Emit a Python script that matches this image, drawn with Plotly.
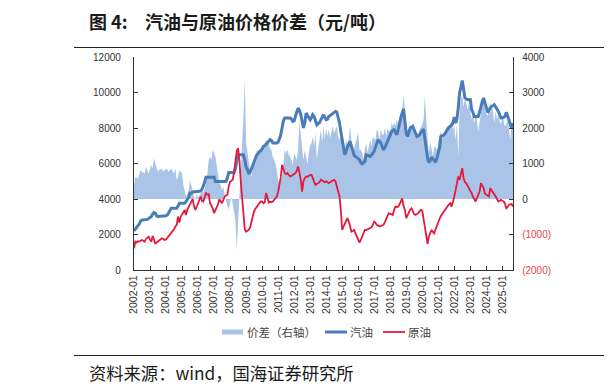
import pandas as pd
import plotly.graph_objects as go

# ---------------- data ----------------
months = pd.date_range("2002-01-01", periods=285, freq="MS")

gasoline = [
    2200, 2300, 2400, 2450, 2600, 2750, 2820, 2820, 2820, 2820, 2850, 2900,   # 2002
    2950, 3010, 3150, 3235, 3200, 3050, 3010, 3010, 3010, 3050, 3050, 3050,   # 2003
    3050, 3100, 3235, 3300, 3480, 3480, 3480, 3480, 3480, 3600, 3760, 3760,   # 2004
    3760, 3760, 3760, 3850, 3990, 4100, 4330, 4330, 4400, 4420, 4420, 4420,   # 2005
    4420, 4450, 4450, 4550, 4700, 4950, 5230, 5230, 5230, 5230, 5230, 5230,   # 2006
    5230, 4985, 4985, 4985, 4985, 4985, 4985, 4985, 4985, 4985, 5200, 5490,   # 2007
    5490, 5490, 5490, 5490, 5700, 6100, 6490, 6490, 6490, 6490, 6490, 6200,   # 2008
    5800, 5640, 5455, 5500, 5700, 5830, 6100, 6300, 6490, 6550, 6680, 6700,   # 2009
    6850, 6960, 7000, 7100, 7150, 7250, 7340, 7300, 7150, 7150, 7150, 7150,   # 2010
    7200, 7430, 7600, 8000, 8400, 8560, 8560, 8560, 8560, 8560, 8500, 8370,   # 2011
    8400, 8600, 8900, 9120, 9000, 8750, 8400, 8000, 8300, 8840, 8700, 8600,   # 2012
    8460, 8600, 8750, 8650, 8400, 8180, 8250, 8300, 8460, 8600, 8750, 8600,   # 2013
    8460, 8500, 8650, 8700, 8750, 8800, 8850, 8935, 8900, 8600, 8280, 7800,   # 2014
    7340, 6900, 6490, 6700, 6960, 7100, 7240, 7000, 6770, 6450, 6400, 6350,   # 2015
    6300, 6200, 6050, 5980, 6050, 6110, 6490, 6450, 6420, 6400, 6480, 6580,   # 2016
    6700, 6950, 7200, 7340, 7250, 7150, 6950, 6770, 6900, 7100, 7300, 7500,   # 2017
    7710, 7800, 7880, 7900, 7750, 7620, 7900, 8310, 8600, 8850, 9070, 8400,   # 2018
    7700, 7520, 7700, 8000, 8050, 8090, 7900, 7650, 7520, 7550, 7620, 7750,   # 2019
    7850, 7940, 7400, 6800, 6300, 6060, 6150, 6360, 6250, 6100, 6060, 6300,   # 2020
    6580, 6900, 7520, 7550, 7600, 7670, 7800, 8000, 8050, 8100, 8130, 8300,   # 2021
    8620, 8280, 8500, 9120, 9970, 10300, 10680, 10200, 9690, 9650, 9590, 9600,  # 2022
    9600, 9030, 8900, 8650, 8650, 8650, 8650, 8900, 9310, 9500, 9690, 9400,   # 2023
    9200, 8880, 9000, 9150, 9220, 9250, 9310, 9200, 9100, 8935, 8750, 8560,   # 2024
    8560, 8600, 8650, 8880, 8700, 8460, 8200, 8000, 8280,                     # 2025
]

crude = [
    1220, 1600, 1550, 1620, 1600, 1650, 1690, 1650, 1600, 1750, 1800, 1880,   # 2002
    1700, 1600, 1920, 1700, 1500, 1550, 1600, 1650, 1700, 1790, 1750, 1690,   # 2003
    1720, 1820, 1900, 2010, 2100, 2160, 2300, 2450, 2540, 3010, 2670, 3010,   # 2004
    3100, 3250, 3390, 3100, 3400, 3550, 3670, 3800, 3990, 3600, 3390, 3550,   # 2005
    3760, 3950, 4140, 3900, 3860, 4100, 4330, 4250, 4270, 3760, 3600, 3480,   # 2006
    3200, 3350, 3480, 3700, 3990, 3850, 3760, 3950, 4140, 4200, 4230, 4700,   # 2007
    4985, 5030, 5080, 5500, 6100, 6700, 6870, 6200, 5000, 3900, 2820, 2300,   # 2008
    2160, 2200, 2260, 2400, 2670, 3100, 3300, 3450, 3570, 3650, 3760, 3860,   # 2009
    3860, 3760, 3800, 4330, 4100, 3800, 3850, 3820, 3860, 3950, 4050, 4140,   # 2010
    4400, 4800, 5200, 5930, 5700, 5460, 5400, 5460, 5350, 5270, 5300, 5360,   # 2011
    5400, 5460, 5600, 5830, 5500, 5080, 4420, 5000, 5170, 5270, 5250, 5300,   # 2012
    5360, 5360, 5200, 4950, 4800, 4850, 4890, 4950, 5080, 5050, 5000, 4950,   # 2013
    5000, 4950, 4890, 4950, 5000, 5050, 5080, 5000, 4700, 4400, 4140, 3390,   # 2014
    2260, 2450, 2630, 2800, 2920, 2730, 2450, 2160, 2200, 2260, 2050, 1880,   # 2015
    1700, 1540, 1700, 1880, 2100, 2260, 2250, 2290, 2300, 2350, 2400, 2550,   # 2016
    2730, 2650, 2540, 2500, 2450, 2480, 2520, 2540, 2700, 2920, 3050, 3200,   # 2017
    3150, 3150, 3100, 3400, 3570, 3550, 3570, 3700, 3900, 4040, 3600, 3390,   # 2018
    2920, 3100, 3290, 3400, 3480, 3300, 3150, 3100, 3150, 3200, 3300, 3390,   # 2019
    3350, 2900, 2300, 1790, 1470, 1900, 2100, 2260, 2150, 2070, 2300, 2540,   # 2020
    2700, 2900, 3050, 3150, 3235, 3350, 3480, 3600, 3700, 3760, 3570, 3800,   # 2021
    4140, 4500, 4900, 5270, 5080, 5400, 5740, 5170, 4950, 4890, 4700, 4610,   # 2022
    4450, 4330, 4140, 3950, 3860, 4050, 4200, 4420, 4890, 4700, 4610, 4300,   # 2023
    4230, 4180, 4140, 4610, 4500, 4420, 4300, 4140, 4000, 3860, 3900, 3950,   # 2024
    3900, 3860, 3750, 3480, 3550, 3670, 3700, 3720, 3570,                     # 2025
]

spread = [
    395, 630, 600, 580, 700, 820, 770, 740, 720, 910, 800, 720,               # 2002
    850, 960, 860, 1145, 1000, 880, 770, 820, 840, 860, 770, 820,             # 2003
    860, 820, 770, 820, 860, 780, 720, 860, 535, 630, 820, 760,               # 2004
    720, 395, 250, 65, 150, 250, 535, 350, 150, 65, -30, 160,                 # 2005
    20, 100, 160, 300, 160, 300, 500, 700, 1100, 1190, 1100, 1380,            # 2006
    1300, 1190, 960, 630, 450, 395, 250, 350, 65, -50, -200, -310,            # 2007
    -120, 65, -150, -350, -600, -1437, -690, -100, 500, 1300, 2320, 3350,     # 2008
    1600, 1300, 1000, 820, 630, 900, 1100, 1190, 1380, 1290, 1420, 1290,      # 2009
    1450, 1520, 1570, 1660, 1600, 1570, 1420, 1380, 1190, 1100, 1000, 820,    # 2010
    535, 440, 500, 630, 960, 1380, 1290, 1380, 1250, 1190, 1100, 960,         # 2011
    1290, 1200, 1100, 1380, 2200, 1800, 1380, 1100, 1380, 1200, 1000, 1300,   # 2012
    1520, 1570, 1760, 1480, 1860, 1100, 1390, 1770, 1960, 1580, 2060, 1670,   # 2013
    1990, 1770, 1960, 1720, 1900, 2050, 1860, 1960, 2050, 1770, 1670, 1770,   # 2014
    1500, 1300, 1390, 1670, 1490, 1700, 2050, 1580, 1200, 1440, 1600, 1770,   # 2015
    1860, 1390, 1390, 1300, 1110, 1390, 1580, 1300, 1500, 1670, 1490, 1770,   # 2016
    1700, 1670, 1960, 1910, 1670, 1960, 1820, 1820, 2010, 1770, 2010, 1910,   # 2017
    1910, 2150, 2050, 2150, 2050, 2250, 2010, 2330, 2240, 2500, 2940, 2420,   # 2018
    2050, 1860, 1960, 2010, 2010, 2150, 1910, 1910, 1860, 1820, 1960, 2010,   # 2019
    2100, 2240, 2900, 2200, 1670, 1300, 1580, 1400, 1200, 1490, 1450, 1390,   # 2020
    1600, 1770, 1910, 1670, 1860, 1860, 2050, 1910, 2050, 2150, 2100, 1960,   # 2021
    2050, 1670, 2100, 1200, 2420, 2800, 2940, 2600, 2840, 2700, 2520, 2700,   # 2022
    2400, 2240, 2380, 2140, 2380, 2240, 1910, 2200, 2470, 2660, 2800, 2520,   # 2023
    2400, 2330, 2700, 2420, 2610, 2450, 2140, 2470, 2240, 2380, 2200, 2100,   # 2024
    2290, 2200, 2050, 2100, 2240, 1960, 1670, 2100, 2140,                     # 2025
]

left_ticks = [0, 2000, 4000, 6000, 8000, 10000, 12000]
left_labels = ["0", "2000", "4000", "6000", "8000", "10000", "12000"]
right_ticks = [-2000, -1000, 0, 1000, 2000, 3000, 4000]
right_labels = ["(2000)", "(1000)", "0", "1000", "2000", "3000", "4000"]

series_names = ["价差（右轴）", "汽油", "原油"]
title_head = "图 4:"
title_body = "汽油与原油价格价差（元/吨）"
source_text = "资料来源：wind，国海证券研究所"

# ---------------- styling ----------------
PAGE_W, PAGE_H = 612, 389
OFF = 8                                  # default body margin of the html page
W, H = PAGE_W - OFF, PAGE_H - OFF
L, R, T, B = 134, 513, 57, 270           # plot-area box in page pixels
AREA_C = "#A9C4E6"
GAS_C = "#4A7DB7"
CRUDE_C = "#E3193D"
NEG_C = "#E8483E"
AX_C = "#333333"
NUM_FONT = "Liberation Sans, Arial, sans-serif"
CJK_FONT = "Noto Sans CJK SC, sans-serif"


def px(x):
    return (x - L) / (R - L)


def py(y):
    return (B - y) / (B - T)


fig = go.Figure()
fig.add_trace(go.Scatter(x=months, y=spread, name=series_names[0], yaxis="y",
                         mode="lines", line=dict(width=0, color=AREA_C),
                         fill="tozeroy", fillcolor=AREA_C, hoverinfo="skip"))
fig.add_trace(go.Scatter(x=months, y=gasoline, name=series_names[1], yaxis="y2",
                         mode="lines", line=dict(width=3, color=GAS_C)))
fig.add_trace(go.Scatter(x=months, y=crude, name=series_names[2], yaxis="y2",
                         mode="lines", line=dict(width=1.8, color=CRUDE_C)))

right_text = [f'<span style="color:{NEG_C}">{t}</span>' if v < 0 else t
              for v, t in zip(right_ticks, right_labels)]

fig.update_layout(
    width=W, height=H, autosize=False,
    margin=dict(l=L - OFF, r=W - (R - OFF), t=T - OFF, b=H - (B - OFF), pad=0),
    paper_bgcolor="white", plot_bgcolor="white",
    showlegend=False,
    font=dict(family=NUM_FONT, size=10, color=AX_C),
    xaxis=dict(type="date", range=[months[0], months[-1]],
               tick0="2002-01-01", dtick="M12", tickformat="%Y-%m",
               tickangle=-90, ticks="inside", ticklen=4, tickcolor=AX_C,
               showline=True, linecolor=AX_C, linewidth=1.3,
               showgrid=False, zeroline=False,
               tickfont=dict(family=NUM_FONT, size=10.5, color=AX_C)),
    yaxis=dict(side="right", range=[-2000, 4000],
               tickmode="array", tickvals=right_ticks, ticktext=right_text,
               ticks="inside", ticklen=4, tickcolor=AX_C,
               showline=True, linecolor=AX_C, linewidth=1.3,
               showgrid=False, zeroline=False, ticklabelstandoff=6,
               tickfont=dict(family=NUM_FONT, size=10, color=AX_C)),
    yaxis2=dict(side="left", overlaying="y", range=[0, 12000],
                tickmode="array", tickvals=left_ticks, ticktext=left_labels,
                ticks="inside", ticklen=4, tickcolor=AX_C,
                showline=True, linecolor=AX_C, linewidth=1.3,
                showgrid=False, zeroline=False, ticklabelstandoff=10,
                tickfont=dict(family=NUM_FONT, size=10, color=AX_C)),
)

shapes = [
    # title rule and source rule
    dict(type="line", xref="paper", yref="paper", x0=px(74), x1=px(640),
         y0=py(47.5), y1=py(47.5), line=dict(color="#222222", width=1.2)),
    dict(type="line", xref="paper", yref="paper", x0=px(74), x1=px(640),
         y0=py(355.5), y1=py(355.5), line=dict(color="#222222", width=1.2)),
    # legend swatches
    dict(type="rect", xref="paper", yref="paper", x0=px(222), x1=px(243),
         y0=py(334.5), y1=py(329.5), fillcolor=AREA_C, line=dict(width=0)),
    dict(type="line", xref="paper", yref="paper", x0=px(325), x1=px(347),
         y0=py(332), y1=py(332), line=dict(color=GAS_C, width=3)),
    dict(type="line", xref="paper", yref="paper", x0=px(383), x1=px(405),
         y0=py(332), y1=py(332), line=dict(color=CRUDE_C, width=1.8)),
]


def note(text, x, y, size, color, anchor="left"):
    return dict(text=text, x=px(x), y=py(y), xref="paper", yref="paper",
                xanchor=anchor, yanchor="middle", showarrow=False,
                font=dict(family=CJK_FONT, size=size, color=color))


annotations = [
    note(f"<b>{title_head}</b>", 87, 21, 18, "#1a1a1a"),
    note(f"<b>{title_body}</b>", 143, 21, 18, "#1a1a1a"),
    note(source_text, 87, 372, 17.3, "#1a1a1a"),
    note(series_names[0], 245, 332, 11.5, "#444444"),
    note(series_names[1], 348, 332, 11.5, "#444444"),
    note(series_names[2], 406, 332, 11.5, "#444444"),
    # partial glyphs cut off at the right page edge
    note("<b>图</b>", 603, 21, 18, "#1a1a1a"),
    note("资", 603, 372, 17, "#1a1a1a"),
]

fig.update_layout(shapes=shapes, annotations=annotations)
fig.write_html("out.html")
